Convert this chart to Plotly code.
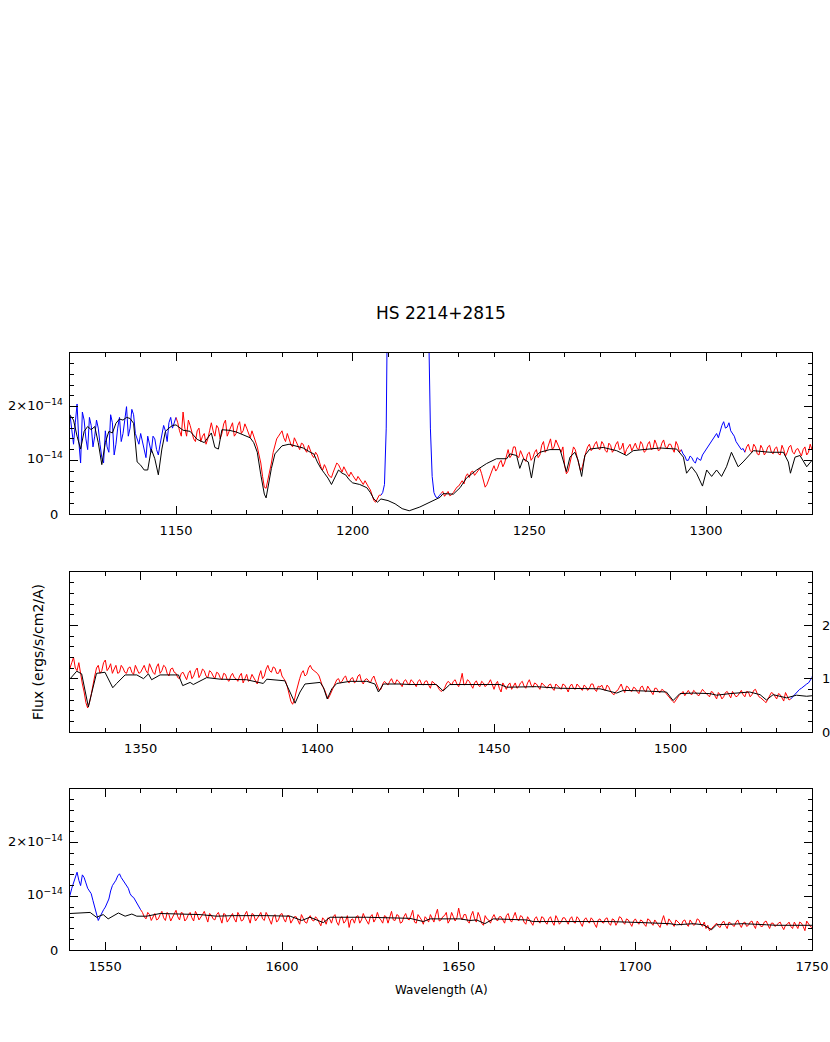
import plotly.graph_objects as go

# ---------------- data (flux in units of 1e-14 ergs/s/cm2/A) ----------------
# observed spectrum, read at whole Angstroms (1120 ... 1750)
obs_int_start = 1120
obs_flux_int = [
    1.85,1.30,2.05,0.95,1.75,1.20,1.65,1.45,1.60,1.05,   # 1120
    1.55,1.15,1.70,1.30,1.80,1.50,2.00,1.60,1.85,1.40,   # 1130
    1.50,1.20,1.45,1.15,1.40,1.10,1.45,1.55,1.70,1.60,   # 1140
    1.80,1.55,1.90,1.45,1.65,1.40,1.55,1.35,1.50,1.40,   # 1150
    1.70,1.45,1.60,1.50,1.75,1.55,1.70,1.50,1.72,1.55,   # 1160
    1.60,1.42,1.45,1.25,0.95,0.50,0.62,0.95,1.30,1.45,   # 1170
    1.55,1.35,1.40,1.25,1.35,1.20,1.30,1.15,1.18,1.05,   # 1180
    1.10,0.88,0.92,0.75,0.68,0.85,0.92,0.78,0.80,0.70,   # 1190
    0.72,0.62,0.65,0.55,0.55,0.45,0.25,0.30,0.35,0.55,   # 1200
    5.00,5.00,5.00,5.00,5.00,5.00,5.00,5.00,5.00,5.00,   # 1210
    5.00,5.00,1.60,0.40,0.30,0.38,0.33,0.42,0.36,0.45,   # 1220
    0.52,0.62,0.70,0.68,0.80,0.76,0.85,0.62,0.55,0.75,   # 1230
    0.90,0.85,1.00,0.95,1.20,1.10,1.25,1.05,1.10,0.98,   # 1240
    1.15,1.05,1.20,1.10,1.35,1.20,1.40,1.25,1.30,1.15,   # 1250
    0.90,0.80,1.10,1.20,0.95,0.88,1.15,1.30,1.22,1.35,   # 1260
    1.20,1.30,1.15,1.28,1.20,1.35,1.22,1.10,1.25,1.18,   # 1270
    1.32,1.20,1.30,1.18,1.35,1.22,1.30,1.20,1.38,1.22,   # 1280
    1.30,1.15,1.28,1.20,1.08,1.00,1.05,0.95,1.02,1.10,   # 1290
    1.20,1.30,1.38,1.50,1.55,1.72,1.62,1.55,1.45,1.30,   # 1300
    1.20,1.15,1.30,1.15,1.25,1.10,1.22,1.15,1.28,1.12,   # 1310
    1.25,1.10,1.20,1.15,1.28,1.12,1.22,1.08,1.25,1.15,   # 1320
    1.20,1.40,1.15,1.05,0.75,0.45,0.70,1.05,1.25,1.15,   # 1330
    1.35,1.20,1.10,1.25,1.12,1.20,1.10,1.22,1.08,1.18,   # 1340
    1.12,1.25,1.10,1.20,1.08,1.28,1.15,1.22,1.05,1.20,   # 1350
    1.10,1.00,1.12,0.98,1.15,1.05,1.20,1.08,1.15,1.02,   # 1360
    1.12,1.00,1.10,0.98,1.08,0.95,1.10,1.00,1.05,0.92,   # 1370
    1.08,0.98,1.02,0.90,1.15,1.05,1.25,1.12,1.20,1.10,   # 1380
    1.05,0.95,0.70,0.52,0.75,1.00,1.15,1.08,1.25,1.15,   # 1390
    1.10,0.95,0.80,0.62,0.75,0.92,1.00,0.95,1.05,0.92,   # 1400
    1.02,0.95,1.08,0.90,1.00,0.92,1.05,0.85,0.80,0.95,   # 1410
    0.88,1.00,0.90,0.95,0.85,0.98,0.88,0.95,0.85,0.98,   # 1420
    0.88,0.96,0.82,0.92,0.86,0.76,0.82,0.95,0.88,0.98,   # 1430
    0.85,1.10,0.90,0.95,0.82,0.96,0.85,0.92,0.88,0.98,   # 1440
    0.80,0.95,0.75,0.85,0.88,0.80,0.92,0.85,0.95,0.82,   # 1450
    0.98,0.84,0.90,0.80,0.88,0.82,0.90,0.78,0.86,0.80,   # 1460
    0.88,0.75,0.90,0.80,0.86,0.78,0.85,0.82,0.90,0.76,   # 1470
    0.84,0.80,0.88,0.76,0.70,0.78,0.90,0.74,0.84,0.76,   # 1480
    0.82,0.72,0.86,0.75,0.80,0.70,0.82,0.74,0.78,0.70,   # 1490
    0.60,0.55,0.65,0.72,0.68,0.78,0.70,0.75,0.68,0.80,   # 1500
    0.72,0.66,0.74,0.62,0.70,0.66,0.76,0.64,0.72,0.68,   # 1510
    0.78,0.66,0.75,0.70,0.80,0.66,0.60,0.55,0.68,0.72,   # 1520
    0.62,0.70,0.58,0.66,0.62,0.70,0.76,0.82,0.88,0.92,   # 1530
    1.02,1.25,1.45,1.20,1.35,1.15,1.05,0.80,0.55,0.70,   # 1540
    0.80,0.95,1.20,1.30,1.42,1.30,1.22,1.05,0.98,0.85,   # 1550
    0.75,0.62,0.70,0.55,0.68,0.58,0.72,0.55,0.66,0.60,   # 1560
    0.74,0.56,0.68,0.58,0.70,0.54,0.66,0.60,0.72,0.52,   # 1570
    0.65,0.56,0.70,0.50,0.66,0.58,0.68,0.52,0.64,0.56,   # 1580
    0.72,0.50,0.66,0.58,0.70,0.55,0.64,0.48,0.66,0.56,   # 1590
    0.68,0.52,0.64,0.56,0.62,0.48,0.60,0.50,0.64,0.54,   # 1600
    0.58,0.45,0.56,0.60,0.50,0.66,0.46,0.62,0.54,0.42,   # 1610
    0.58,0.62,0.50,0.68,0.54,0.62,0.52,0.70,0.56,0.64,   # 1620
    0.50,0.72,0.55,0.64,0.52,0.68,0.56,0.74,0.50,0.62,   # 1630
    0.48,0.58,0.66,0.52,0.76,0.56,0.64,0.50,0.70,0.54,   # 1640
    0.78,0.56,0.66,0.50,0.72,0.52,0.62,0.46,0.58,0.50,   # 1650
    0.66,0.54,0.62,0.50,0.68,0.52,0.70,0.54,0.62,0.48,   # 1660
    0.56,0.46,0.62,0.50,0.60,0.48,0.62,0.46,0.58,0.52,   # 1670
    0.60,0.48,0.62,0.50,0.58,0.44,0.60,0.50,0.56,0.42,   # 1680
    0.58,0.50,0.60,0.46,0.56,0.52,0.60,0.48,0.56,0.44,   # 1690
    0.58,0.48,0.54,0.44,0.56,0.46,0.52,0.42,0.64,0.46,   # 1700
    0.54,0.44,0.52,0.46,0.56,0.44,0.52,0.48,0.56,0.44,   # 1710
    0.40,0.36,0.44,0.50,0.42,0.54,0.40,0.50,0.44,0.56,   # 1720
    0.42,0.52,0.46,0.54,0.40,0.50,0.44,0.54,0.40,0.50,   # 1730
    0.46,0.52,0.38,0.48,0.44,0.52,0.40,0.50,0.36,0.48,   # 1740
    0.42,                                                # 1750
]
# observed spectrum, read at half Angstroms (1120.5 ... 1749.5)
obs_half_start = 1120.5
obs_flux_half = [
    1.50,1.70,1.35,1.90,1.40,1.80,1.25,1.75,1.30,0.95,   # 1120.5
    1.25,1.85,1.10,1.60,1.35,1.75,1.45,1.95,1.50,1.30,   # 1130.5
    1.35,1.05,1.30,1.45,1.20,1.30,1.65,1.35,1.80,1.70,   # 1140.5
    1.70,1.45,1.60,1.75,1.50,1.35,1.60,1.45,1.30,1.55,   # 1150.5
    1.55,1.65,1.40,1.68,1.45,1.62,1.45,1.65,1.50,1.68,   # 1160.5
    1.50,1.55,1.35,1.10,0.70,0.48,0.78,1.15,1.40,1.50,   # 1170.5
    1.42,1.50,1.30,1.42,1.28,1.32,1.20,1.28,1.10,1.15,   # 1180.5
    0.98,0.82,0.85,0.70,0.78,0.95,0.85,0.88,0.75,0.78,   # 1190.5
    0.66,0.70,0.58,0.62,0.50,0.35,0.22,0.35,0.40,1.60,   # 1200.5
    5.00,5.00,5.00,5.00,5.00,5.00,5.00,5.00,5.00,5.00,   # 1210.5
    5.00,3.50,0.70,0.32,0.34,0.42,0.38,0.34,0.40,0.50,   # 1220.5
    0.58,0.56,0.75,0.78,0.72,0.82,0.75,0.50,0.65,0.82,   # 1230.5
    0.80,0.95,0.88,1.10,1.05,1.25,1.08,1.18,1.02,1.12,   # 1240.5
    1.00,1.15,1.05,1.28,1.15,1.32,1.20,1.38,1.20,1.25,   # 1250.5
    0.75,0.95,1.25,1.05,0.80,1.05,1.25,1.18,1.30,1.22,   # 1260.5
    1.35,1.18,1.32,1.15,1.30,1.20,1.32,1.20,1.30,1.25,   # 1270.5
    1.22,1.35,1.15,1.30,1.20,1.38,1.18,1.32,1.25,1.30,   # 1280.5
    1.22,1.35,1.15,1.12,1.00,1.08,0.98,1.05,1.00,1.15,   # 1290.5
    1.25,1.35,1.45,1.42,1.65,1.60,1.70,1.50,1.35,1.25,   # 1300.5
    1.22,1.25,1.18,1.30,1.12,1.28,1.10,1.25,1.15,1.22,   # 1310.5
    1.12,1.28,1.08,1.25,1.15,1.20,1.15,1.20,1.10,1.30,   # 1320.5
    1.30,1.20,1.30,0.90,0.55,0.55,0.90,1.20,1.10,1.30,   # 1330.5
    1.15,1.28,1.18,1.10,1.25,1.12,1.20,1.12,1.25,1.10,   # 1340.5
    1.20,1.15,1.28,1.12,1.22,1.10,1.25,1.10,1.18,1.12,   # 1350.5
    1.02,1.10,1.05,1.10,1.00,1.15,1.02,1.18,1.05,1.15,   # 1360.5
    1.05,1.12,1.02,1.10,0.98,1.05,1.02,0.95,1.10,1.00,   # 1370.5
    0.95,1.08,0.96,1.05,1.00,1.18,1.15,1.22,1.10,1.18,   # 1380.5
    1.00,0.85,0.58,0.60,0.90,1.10,1.05,1.20,1.18,1.12,   # 1390.5
    1.05,0.85,0.70,0.68,0.85,0.98,0.92,1.02,0.95,1.00,   # 1400.5
    0.92,1.05,0.95,0.98,0.95,1.00,0.95,0.78,0.90,0.92,   # 1410.5
    0.95,0.92,0.98,0.90,0.95,0.92,0.98,0.90,0.95,0.90,   # 1420.5
    0.95,0.88,0.95,0.90,0.80,0.78,0.90,0.92,0.95,0.90,   # 1430.5
    0.95,0.88,0.98,0.88,0.92,0.88,0.95,0.85,0.92,0.88,   # 1440.5
    0.90,0.82,0.92,0.80,0.92,0.86,0.82,0.92,0.86,0.92,   # 1450.5
    0.88,0.92,0.85,0.92,0.84,0.88,0.82,0.90,0.82,0.90,   # 1460.5
    0.82,0.86,0.82,0.90,0.80,0.88,0.78,0.90,0.80,0.86,   # 1470.5
    0.88,0.78,0.84,0.72,0.76,0.84,0.80,0.86,0.78,0.84,   # 1480.5
    0.76,0.84,0.78,0.86,0.74,0.82,0.76,0.80,0.74,0.66,   # 1490.5
    0.58,0.60,0.70,0.76,0.74,0.72,0.78,0.70,0.74,0.76,   # 1500.5
    0.70,0.76,0.68,0.74,0.62,0.74,0.70,0.76,0.66,0.74,   # 1510.5
    0.70,0.76,0.66,0.78,0.72,0.64,0.58,0.62,0.74,0.66,   # 1520.5
    0.72,0.64,0.74,0.60,0.66,0.74,0.80,0.85,0.90,0.96,   # 1530.5
    1.15,1.38,1.30,1.40,1.25,1.10,0.92,0.65,0.62,0.75,   # 1540.5
    0.88,1.10,1.25,1.38,1.35,1.25,1.15,1.00,0.92,0.80,   # 1550.5
    0.70,0.58,0.66,0.62,0.56,0.66,0.60,0.70,0.54,0.68,   # 1560.5
    0.62,0.70,0.54,0.66,0.60,0.72,0.56,0.66,0.60,0.68,   # 1570.5
    0.58,0.66,0.60,0.68,0.52,0.64,0.58,0.70,0.54,0.66,   # 1580.5
    0.60,0.68,0.54,0.64,0.58,0.70,0.56,0.62,0.52,0.66,   # 1590.5
    0.58,0.64,0.50,0.62,0.56,0.66,0.52,0.60,0.56,0.62,   # 1600.5
    0.52,0.60,0.48,0.58,0.62,0.52,0.60,0.50,0.64,0.56,   # 1610.5
    0.50,0.64,0.56,0.60,0.48,0.66,0.58,0.60,0.50,0.62,   # 1620.5
    0.60,0.56,0.66,0.50,0.62,0.58,0.64,0.52,0.66,0.56,   # 1630.5
    0.62,0.52,0.60,0.66,0.54,0.62,0.70,0.56,0.62,0.60,   # 1640.5
    0.62,0.66,0.54,0.64,0.58,0.70,0.50,0.64,0.56,0.60,   # 1650.5
    0.58,0.62,0.56,0.64,0.56,0.62,0.58,0.64,0.52,0.62,   # 1660.5
    0.52,0.58,0.54,0.62,0.52,0.58,0.52,0.64,0.48,0.60,   # 1670.5
    0.54,0.58,0.52,0.62,0.50,0.56,0.54,0.60,0.48,0.56,   # 1680.5
    0.52,0.58,0.50,0.58,0.46,0.62,0.52,0.58,0.50,0.54,   # 1690.5
    0.52,0.56,0.48,0.58,0.50,0.56,0.48,0.54,0.52,0.58,   # 1700.5
    0.48,0.56,0.50,0.54,0.48,0.56,0.46,0.58,0.48,0.52,   # 1710.5
    0.46,0.40,0.48,0.44,0.50,0.46,0.52,0.46,0.52,0.48,   # 1720.5
    0.50,0.44,0.52,0.46,0.54,0.44,0.52,0.46,0.50,0.44,   # 1730.5
    0.50,0.44,0.46,0.52,0.40,0.46,0.52,0.44,0.54,0.44,   # 1740.5
]

# wavelength windows drawn in blue (emission / geocoronal regions)
blue_windows = [(1120, 1150), (1208, 1225), (1293, 1311), (1534, 1560)]

model_wave = [
    1120, 1121, 1122, 1123, 1124, 1125, 1126, 1127, 1128, 1129, 1130, 1131, 1132, 1133,
    1134, 1135, 1136, 1137, 1138, 1139, 1140, 1141, 1142, 1143, 1144, 1145, 1146, 1147,
    1148, 1149, 1150, 1152, 1154, 1156, 1158, 1159, 1160, 1161, 1162, 1163, 1165, 1167,
    1169, 1171, 1172, 1173, 1174, 1175, 1175.5, 1176, 1177, 1178, 1180, 1182, 1184, 1186,
    1188, 1189, 1190, 1191, 1192, 1193, 1194, 1195, 1196, 1197, 1198, 1199, 1200, 1202,
    1204, 1205, 1206, 1207, 1208, 1210, 1212, 1214, 1216, 1219, 1222, 1224.7, 1225.6,
    1228.5, 1230.4, 1232.2, 1235.1, 1237.9, 1240.7, 1243.6, 1244.5, 1246.4, 1247.3,
    1248.3, 1249.7, 1250.6, 1251.6, 1253, 1255.8, 1258.7, 1260.1, 1260.5, 1261.5, 1262.9,
    1263.8, 1264.8, 1265.7, 1267.1, 1270.9, 1274.7, 1277.5, 1279.4, 1282.2, 1287, 1291.7,
    1293.6, 1294.5, 1295.9, 1297.3, 1299, 1300.2, 1301.6, 1303, 1304.4, 1305.8, 1307.2,
    1309.1, 1310.5, 1313.4, 1318.1, 1321.9, 1323.3, 1323.9, 1325.2, 1326.6, 1328.5,
    1330, 1331.9, 1333.3, 1334.2, 1335.2, 1336.1, 1337.5, 1339.9, 1340.8, 1342.1, 1343.2,
    1345.6, 1348.9, 1350.8, 1352.2, 1353.1, 1355.5, 1360.7, 1361.9, 1364, 1364.9, 1366.8,
    1368.7, 1372.5, 1376.2, 1380, 1384.7, 1385.7, 1390.8, 1392.3, 1393.7, 1395.1, 1396.5,
    1400.8, 1401.7, 1402.8, 1404.1, 1405.5, 1409.2, 1414, 1416.3, 1417.3, 1418.7, 1423.4,
    1426.2, 1433.7, 1435.6, 1437.5, 1451.7, 1453.6, 1462, 1468.7, 1480, 1484.7, 1486.6,
    1492.2, 1498.8, 1500.7, 1502.6, 1506.4, 1511.1, 1513, 1516.8, 1522.4, 1525.3, 1527.1,
    1529, 1532.8, 1535.6, 1538.5, 1540, 1545.7, 1547.5, 1549.4, 1550.8, 1553.7, 1555.6,
    1557.5, 1558.9, 1561.7, 1565.5, 1576.8, 1581.5, 1586.2, 1595.7, 1602.3, 1605.6,
    1607.9, 1611.7, 1613.6, 1624, 1636.2, 1640, 1641.9, 1650.4, 1653.2, 1655.1, 1657.4,
    1659.8, 1669.2, 1671.1, 1692.8, 1702.2, 1709.8, 1711.7, 1716.4, 1719.2, 1721.6, 1723,
    1730.5, 1737.1, 1740, 1750,
]
model_flux = [
    1.84, 1.75, 1.45, 1.21, 1.54, 1.63, 1.57, 1.63, 1.33, 0.92, 1.33, 1.54, 1.51, 1.69,
    1.77, 1.75, 1.80, 1.78, 1.69, 0.97, 0.91, 0.82, 0.82, 1.21, 1.03, 0.73, 1.21, 1.54,
    1.60, 1.65, 1.66, 1.56, 1.54, 1.39, 1.33, 1.42, 1.51, 1.24, 1.21, 1.57, 1.56, 1.53,
    1.48, 1.42, 1.33, 1.15, 0.73, 0.37, 0.30, 0.49, 0.85, 1.12, 1.27, 1.30, 1.26, 1.23,
    1.15, 1.12, 0.97, 0.85, 0.76, 0.67, 0.55, 0.70, 0.82, 0.76, 0.73, 0.64, 0.58, 0.55,
    0.49, 0.40, 0.28, 0.22, 0.28, 0.25, 0.19, 0.10, 0.06, 0.13, 0.22, 0.31, 0.38,
    0.37, 0.49, 0.67, 0.82, 0.94, 1.03, 1.03, 1.12, 1.09, 0.85,
    1.03, 0.97, 0.67, 1.06, 1.15, 1.20, 1.20, 0.88, 0.79, 1.06, 1.15,
    1.00, 0.70, 1.09, 1.21, 1.24, 1.18, 1.09, 1.18, 1.20, 1.23, 1.21,
    1.06, 0.76, 0.88, 0.76, 0.52, 0.82, 0.70, 0.82, 0.70, 0.88, 1.15,
    0.88, 0.97, 1.18, 1.15, 1.15, 0.97, 0.76, 1.06, 1.09, 0.88,
    1.00, 1.14, 1.09, 0.78, 0.47, 0.72, 1.10, 1.12, 0.99, 0.83, 0.91,
    1.07, 1.07, 1.00, 1.09, 0.98, 1.07, 1.07, 0.87, 0.93, 0.89, 0.96,
    1.02, 0.99, 0.99, 0.98, 0.91, 0.99, 0.96, 0.75, 0.54, 0.75, 0.90,
    0.93, 0.84, 0.62, 0.81, 0.91, 0.95, 0.95, 0.90, 0.75, 0.90, 0.90,
    0.89, 0.89, 0.77, 0.89, 0.89, 0.84, 0.85, 0.82, 0.81, 0.73, 0.78,
    0.77, 0.75, 0.59, 0.72, 0.73, 0.72, 0.69, 0.72, 0.75, 0.70, 0.60,
    0.70, 0.64, 0.69, 0.67, 0.68, 0.70, 0.61, 0.66, 0.58, 0.69, 0.63,
    0.67, 0.63, 0.63, 0.68, 0.66, 0.63, 0.64, 0.64, 0.63, 0.55,
    0.61, 0.51, 0.61, 0.61, 0.59, 0.53, 0.58, 0.58, 0.55, 0.56, 0.49,
    0.58, 0.56, 0.53, 0.53, 0.51, 0.49, 0.47, 0.49, 0.47, 0.38, 0.47,
    0.49, 0.47, 0.46, 0.46,
]
assert len(model_wave) == len(model_flux)

panel_xranges = [(1120, 1330), (1330, 1540), (1540, 1750)]
x_tickvals = [[1150, 1200, 1250, 1300], [1350, 1400, 1450, 1500], [1550, 1600, 1650, 1700, 1750]]
y_tickvals = [0, 1, 2]
y_ticktext_sci = ["0", "10<sup>−14</sup>", "2×10<sup>−14</sup>"]
y_ticktext_plain = ["0", "1", "2"]

title_text = "HS 2214+2815"
xlabel_text = "Wavelength (A)"
ylabel_text = "Flux (ergs/s/cm2/A)"

# ---------------- merge the two readings onto one wavelength axis ----------------
pairs = [(obs_int_start + i, f) for i, f in enumerate(obs_flux_int)]
pairs += [(obs_half_start + i, f) for i, f in enumerate(obs_flux_half)]
pairs.sort()
obs_wave = [p[0] for p in pairs]
obs_flux = [p[1] for p in pairs]

# ---------------- figure ----------------
W, H = 830, 1042
ML, MR = 70, W - 812
PW = W - ML - MR
FONT = "DejaVu Sans"


def px_x(page_x):
    return (page_x - ML) / PW


def px_y(page_y):
    return 1 - page_y / H


def in_blue(w, strict):
    for lo, hi in blue_windows:
        if (lo < w < hi) if strict else (lo <= w <= hi):
            return True
    return False


red_y = [None if in_blue(w, True) else f for w, f in zip(obs_wave, obs_flux)]
blue_y = [f if in_blue(w, False) else None for w, f in zip(obs_wave, obs_flux)]

# panel vertical pixel extents (top, bottom)
panel_px = [(353, 514), (572, 732), (789, 950)]

fig = go.Figure()
layout = dict(
    width=W, height=H,
    margin=dict(l=ML, r=MR, t=0, b=0),
    paper_bgcolor="white", plot_bgcolor="white",
    showlegend=False,
    font=dict(family=FONT, size=13, color="black"),
)
annotations = []

for i, ((x0, x1), (top, bot)) in enumerate(zip(panel_xranges, panel_px)):
    n = i + 1
    xa = "x" if n == 1 else f"x{n}"
    ya = "y" if n == 1 else f"y{n}"
    fig.add_trace(go.Scatter(x=obs_wave, y=red_y, mode="lines", xaxis=xa, yaxis=ya,
                             line=dict(color="#ff0000", width=1), connectgaps=False,
                             hoverinfo="skip"))
    fig.add_trace(go.Scatter(x=obs_wave, y=blue_y, mode="lines", xaxis=xa, yaxis=ya,
                             line=dict(color="#0000ff", width=1), connectgaps=False,
                             hoverinfo="skip"))
    fig.add_trace(go.Scatter(x=model_wave, y=model_flux, mode="lines", xaxis=xa, yaxis=ya,
                             line=dict(color="black", width=1), hoverinfo="skip"))

    xkey = "xaxis" if n == 1 else f"xaxis{n}"
    ykey = "yaxis" if n == 1 else f"yaxis{n}"
    layout[xkey] = dict(
        domain=[0, 1], anchor=ya, range=[x0, x1],
        tickmode="array", tickvals=x_tickvals[i],
        ticks="inside", ticklen=8, tickwidth=1, tickcolor="black",
        ticklabelstandoff=4,
        minor=dict(tickmode="linear", tick0=1100, dtick=10, ticks="inside",
                   ticklen=4, tickcolor="black", showgrid=False),
        showline=True, linecolor="black", linewidth=1, mirror="ticks",
        showgrid=False, zeroline=False,
        tickfont=dict(family=FONT, size=13, color="black"),
    )
    layout[ykey] = dict(
        domain=[px_y(bot), px_y(top)], anchor=xa, range=[0, 3],
        tickmode="array", tickvals=y_tickvals, showticklabels=False,
        ticks="inside", ticklen=8, tickwidth=1, tickcolor="black",
        minor=dict(tickmode="linear", tick0=0, dtick=0.2, ticks="inside",
                   ticklen=4, tickcolor="black", showgrid=False),
        showline=True, linecolor="black", linewidth=1, mirror="ticks",
        showgrid=False, zeroline=False,
    )
    # y tick labels placed like the original plot
    for v, sci, plain in zip(y_tickvals, y_ticktext_sci, y_ticktext_plain):
        if n == 2:
            annotations.append(dict(text=plain, xref="paper", yref=ya, x=px_x(820), y=v,
                                    xanchor="left", yanchor="middle", showarrow=False,
                                    font=dict(family=FONT, size=13, color="black")))
        else:
            right = 60 if v == 0 else 65
            annotations.append(dict(text=sci, xref="paper", yref=ya, x=px_x(right), y=v,
                                    xanchor="right", yanchor="middle", showarrow=False,
                                    yshift=0 if v == 0 else 2,
                                    font=dict(family=FONT, size=13, color="black")))

annotations += [
    dict(text=title_text, xref="paper", yref="paper", x=0.5, y=px_y(313),
         xanchor="center", yanchor="middle", showarrow=False,
         font=dict(family=FONT, size=17, color="black")),
    dict(text=xlabel_text, xref="paper", yref="paper", x=0.5, y=px_y(990),
         xanchor="center", yanchor="middle", showarrow=False,
         font=dict(family=FONT, size=12, color="black")),
    dict(text=ylabel_text, xref="paper", yref="paper", x=px_x(38),
         y=px_y(652), xanchor="center", yanchor="middle", showarrow=False,
         textangle=-90, font=dict(family=FONT, size=14, color="black")),
]
layout["annotations"] = annotations

fig.update_layout(**layout)
# remove the browser's default 8px body margin so the figure fills the window exactly
fig.write_html("out.html",
               config={"displayModeBar": False},
               post_script="document.body.style.margin='0';"
                           "document.body.style.overflow='hidden';")
